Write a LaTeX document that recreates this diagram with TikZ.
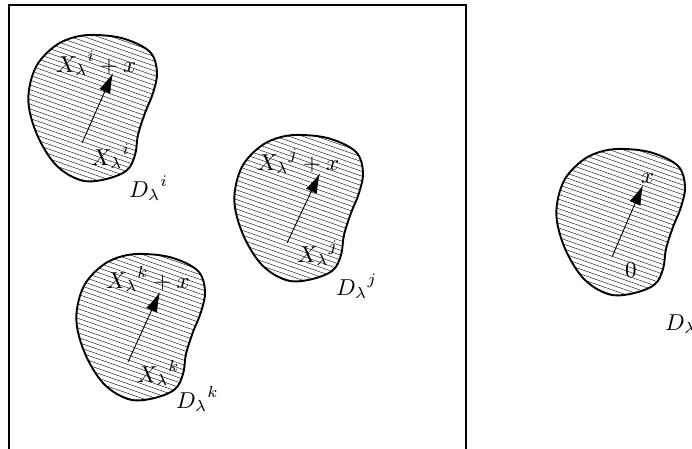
\documentclass[tikz,border=0pt]{standalone}
\usepackage{graphicx}
\usetikzlibrary{arrows.meta}
\tikzset{
  blobline/.style={line width=1.9pt, line join=round},
  hatchline/.style={line width=0.5pt, black!85},
  vec/.style={line width=0.9pt, -{Latex[length=20pt,width=12pt]}},
  lab/.style={inner sep=0pt, anchor=base west},
  framebox/.style={line width=1.9pt}
}
\newcommand{\lbltxt}[1]{\scalebox{2.3}{$#1$}}
\def\blobpath{plot[smooth cycle, tension=0.6] coordinates {(97,35) (125,39) (150,52) (157,72) (153,93) (145,113) (138,135) (135,155) (126,171) (102,180) (80,180) (57,166) (40,141) (30,113) (29,90) (37,65) (55,46) (75,37)}}
\newcommand{\drawblob}[1]{%
  \begin{scope}[shift={#1}]
    \begin{scope}
      \clip \blobpath;
      \foreach \k in {-40,...,40} {\draw[hatchline] (0,{60+\k*4.8}) -- ++(200,70);}
    \end{scope}
    \draw[blobline] \blobpath;
  \end{scope}}
\begin{document}
\begin{tikzpicture}[x=1pt,y=-1pt]
\clip (0,0) rectangle (692,448);
\fill[white] (0,0) rectangle (692,448);
\draw[framebox] (9,5) rectangle (466,470);
% blobs
\drawblob{(0,0)}
\drawblob{(206,100)}
\drawblob{(48,219)}
\drawblob{(528,114)}
% arrows
\coordinate (ai0) at (82,143); \coordinate (ai1) at (113,73);
\coordinate (aj0) at (287,243); \coordinate (aj1) at (320,173);
\coordinate (ak0) at (128,362); \coordinate (ak1) at (160,292);
\coordinate (a00) at (612,257); \coordinate (a01) at (643,185);
\draw[vec] (ai0) -- (ai1);
\draw[vec] (aj0) -- (aj1);
\draw[vec] (ak0) -- (ak1);
\draw[vec] (a00) -- (a01);
% labels
\node[lab] (ti) at (56,72) {\lbltxt{{X_\lambda}^i+x}};
\node[lab] (bi) at (91,165) {\lbltxt{{X_\lambda}^i}};
\node[lab] (di) at (129,197) {\lbltxt{{D_\lambda}^i}};
\node[lab] (tj) at (257,170) {\lbltxt{{X_\lambda}^j+x}};
\node[lab] (bj) at (297,262) {\lbltxt{{X_\lambda}^j}};
\node[lab] (dj) at (336,295) {\lbltxt{{D_\lambda}^j}};
\node[lab] (tk) at (106,288) {\lbltxt{{X_\lambda}^k+x}};
\node[lab] (bk) at (137,382) {\lbltxt{{X_\lambda}^k}};
\node[lab] (dk) at (176,408) {\lbltxt{{D_\lambda}^k}};
\node[lab] (tx) at (641,183) {\lbltxt{x}};
\node[lab] (t0) at (625,277) {\lbltxt{0}};
\node[lab] (d0) at (665,330) {\lbltxt{D_\lambda}};
\end{tikzpicture}
\end{document}
